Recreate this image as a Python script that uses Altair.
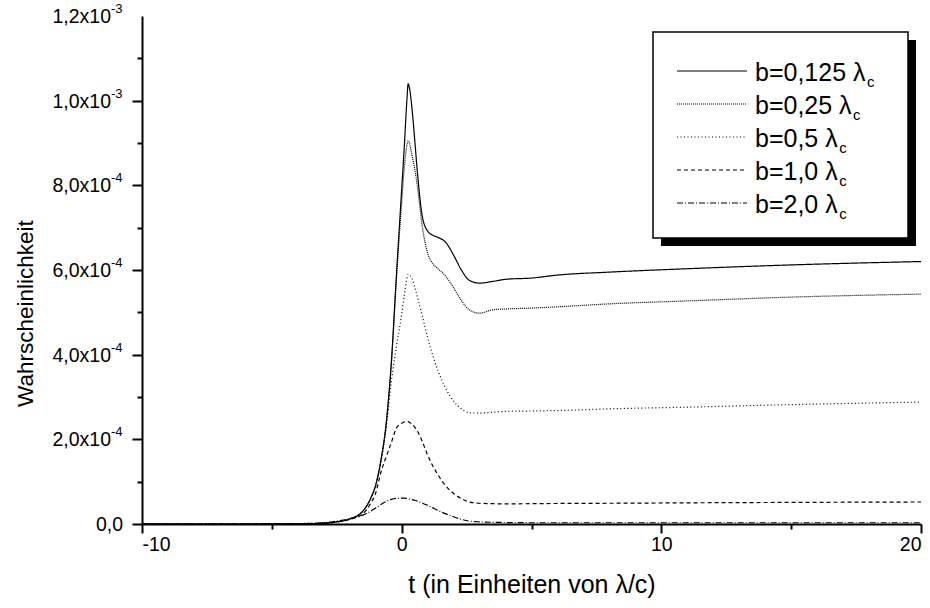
import altair as alt
import pandas as pd

# time axis (in units of lambda/c)
t = [-10, -6, -4, -3, -2.5, -2, -1.5, -1.2, -1.0, -0.8, -0.6, -0.4, -0.2, 0.0, 0.1,
     0.2, 0.25, 0.3, 0.4, 0.5, 0.6, 0.8, 1.0, 1.2, 1.4, 1.7, 2.0, 2.3, 2.6, 3.0,
     3.5, 4.0, 5.0, 6.0, 8.0, 11.0, 15.0, 20.0]

# probability for each impact parameter b
p_b0125 = [0, 0, 5e-7, 2e-6, 5e-6, 1.2e-5, 3.0e-5, 6.0e-5, 9.2e-5, 1.5e-4, 2.35e-4, 3.8e-4,
           5.9e-4, 7.9e-4, 8.9e-4, 1.0e-3, 1.04e-3, 1.03e-3, 9.8e-4, 9.1e-4, 8.35e-4,
           7.25e-4, 6.92e-4, 6.82e-4, 6.77e-4, 6.65e-4, 6.35e-4, 6.0e-4, 5.76e-4,
           5.69e-4, 5.73e-4, 5.78e-4, 5.81e-4, 5.88e-4, 5.95e-4, 6.03e-4, 6.12e-4, 6.2e-4]
p_b025 = [0, 0, 5e-7, 2e-6, 5e-6, 1.2e-5, 3.0e-5, 6.0e-5, 9.2e-5, 1.5e-4, 2.35e-4, 3.75e-4,
          5.8e-4, 7.6e-4, 8.4e-4, 8.95e-4, 9.05e-4, 9.0e-4, 8.7e-4, 8.4e-4, 8.0e-4,
          7.0e-4, 6.4e-4, 6.15e-4, 6.03e-4, 5.85e-4, 5.58e-4, 5.28e-4, 5.06e-4,
          4.98e-4, 5.06e-4, 5.08e-4, 5.1e-4, 5.13e-4, 5.2e-4, 5.27e-4, 5.36e-4, 5.43e-4]
p_b05 = [0, 0, 5e-7, 2e-6, 5e-6, 1.2e-5, 3.0e-5, 5.9e-5, 9.0e-5, 1.45e-4, 2.25e-4, 3.35e-4,
         4.2e-4, 4.95e-4, 5.4e-4, 5.8e-4, 5.9e-4, 5.88e-4, 5.8e-4, 5.6e-4, 5.38e-4,
         4.9e-4, 4.4e-4, 3.98e-4, 3.62e-4, 3.2e-4, 2.9e-4, 2.72e-4, 2.63e-4,
         2.62e-4, 2.64e-4, 2.66e-4, 2.67e-4, 2.68e-4, 2.72e-4, 2.76e-4, 2.82e-4, 2.88e-4]
p_b10 = [0, 0, 5e-7, 2e-6, 5e-6, 1.1e-5, 2.4e-5, 4.8e-5, 7.3e-5, 1.22e-4, 1.58e-4, 1.92e-4,
         2.27e-4, 2.38e-4, 2.41e-4, 2.42e-4, 2.42e-4, 2.4e-4, 2.36e-4, 2.29e-4, 2.2e-4,
         1.94e-4, 1.63e-4, 1.37e-4, 1.16e-4, 9.0e-5, 7.2e-5, 6.0e-5, 5.2e-5,
         4.9e-5, 4.8e-5, 4.75e-5, 4.8e-5, 4.85e-5, 4.9e-5, 5.0e-5, 5.1e-5, 5.2e-5]
p_b20 = [0, 0, 1e-6, 3e-6, 7e-6, 1.2e-5, 2.1e-5, 3.0e-5, 3.8e-5, 4.6e-5, 5.3e-5, 5.8e-5,
         6.05e-5, 6.1e-5, 6.1e-5, 6.0e-5, 5.95e-5, 5.9e-5, 5.75e-5, 5.6e-5, 5.4e-5,
         4.9e-5, 4.4e-5, 3.8e-5, 3.2e-5, 2.4e-5, 1.7e-5, 1.1e-5, 7e-6,
         5e-6, 4e-6, 3.5e-6, 3e-6, 3e-6, 3e-6, 3e-6, 3e-6, 3e-6]

series_values = [p_b0125, p_b025, p_b05, p_b10, p_b20]
series_labels = ["b=0,125 λ", "b=0,25 λ", "b=0,5 λ", "b=1,0 λ", "b=2,0 λ"]
series_dash = [[1, 0], [1, 1], [1, 2.5], [4, 3], [6, 2, 1, 2]]

# y tick labels (mantissa + exponent)
y_tick_values = [0, 2e-4, 4e-4, 6e-4, 8e-4, 1.0e-3, 1.2e-3]
y_tick_mant = ["0,0", "2,0x10", "4,0x10", "6,0x10", "8,0x10", "1,0x10", "1,2x10"]
y_tick_exp = ["", "-4", "-4", "-4", "-4", "-3", "-3"]
y_axis_ticks = [i * 1e-4 for i in range(13)]
x_axis_ticks = [-10, -5, 0, 5, 10, 15, 20]

FONT = "Liberation Sans"
W, H = 779, 508
TICK_FS = 19.5

x_scale = alt.Scale(domain=[-10, 20], nice=False, zero=False)
y_scale = alt.Scale(domain=[0, 0.0012], nice=False, zero=True)

x_axis = alt.Axis(
    values=x_axis_ticks, grid=False,
    labelExpr="datum.value % 10 === 0 ? '' + datum.value : ''",
    labelFont=FONT, labelFontSize=TICK_FS, labelColor="black", labelPadding=2,
    tickSize={"condition": {"test": "datum.value % 10 === 0", "value": 9}, "value": 5},
    tickColor="black", tickWidth=2, domainColor="black", domainWidth=2,
    title="t (in Einheiten von λ/c)", titleFont=FONT, titleFontSize=25,
    titleFontWeight="normal", titleColor="black",
    titleX=W / 2, titleY=60, titleBaseline="middle", titleAlign="center",
)
y_axis = alt.Axis(
    values=y_axis_ticks, grid=False, labels=False,
    tickSize={"condition": {"test": "round(datum.value * 10000) % 2 === 0", "value": 10},
              "value": 5},
    tickColor="black", tickWidth=2, domainColor="black", domainWidth=2,
    title="Wahrscheinlichkeit", titleFont=FONT, titleFontSize=22.5,
    titleFontWeight="normal", titleColor="black",
    titleX=-117, titleY=297, titleAngle=-90, titleBaseline="middle", titleAlign="center",
)

layers = []

# curves
for vals, lab, dash in zip(series_values, series_labels, series_dash):
    df = pd.DataFrame({"t": t, "p": vals, "b": lab})
    layers.append(
        alt.Chart(df).mark_line(color="black", strokeWidth=1.2, strokeDash=dash,
                                interpolate="monotone", clip=True).encode(
            x=alt.X("t:Q", scale=x_scale, axis=x_axis),
            y=alt.Y("p:Q", scale=y_scale, axis=y_axis),
        )
    )

# y tick labels with raised exponent
ylab = pd.DataFrame({"p": y_tick_values, "mant": y_tick_mant, "exp": y_tick_exp})
layers.append(
    alt.Chart(ylab).transform_filter("datum.exp != ''").mark_text(
        align="right", baseline="middle", font=FONT, fontSize=TICK_FS, color="black", dy=1
    ).encode(x=alt.value(-31), y=alt.Y("p:Q", scale=y_scale, axis=y_axis), text="mant:N")
)
layers.append(
    alt.Chart(ylab).transform_filter("datum.exp != ''").mark_text(
        align="left", baseline="middle", font=FONT, fontSize=13, color="black", dy=-7
    ).encode(x=alt.value(-31), y=alt.Y("p:Q", scale=y_scale, axis=y_axis), text="exp:N")
)
layers.append(
    alt.Chart(ylab).transform_filter("datum.exp == ''").mark_text(
        align="right", baseline="middle", font=FONT, fontSize=TICK_FS, color="black", dy=1
    ).encode(x=alt.value(-19), y=alt.Y("p:Q", scale=y_scale, axis=y_axis), text="mant:N")
)

# legend: shadow, box, sample lines and labels
one = pd.DataFrame({"k": [0]})
BX0, BX1, BY0, BY1, SH = 511, 766, 16, 222, 8
layers.append(alt.Chart(one).mark_rect(color="black").encode(
    x=alt.value(BX0 + SH), x2=alt.value(BX1 + SH), y=alt.value(BY0 + SH), y2=alt.value(BY1 + SH)))
layers.append(alt.Chart(one).mark_rect(fill="white", stroke="black", strokeWidth=1.5).encode(
    x=alt.value(BX0), x2=alt.value(BX1), y=alt.value(BY0), y2=alt.value(BY1)))

# approximate advance widths (em) for placing the subscript after each label
adv = {"b": 0.556, "=": 0.584, "0": 0.556, ",": 0.278, "1": 0.556, "2": 0.556,
       "5": 0.556, " ": 0.278, "λ": 0.52}
LEG_FS = 25
for i, (lab, dash) in enumerate(zip(series_labels, series_dash)):
    ry = 55 + 33.0 * i
    layers.append(alt.Chart(one).mark_rule(color="black", strokeWidth=1.2, strokeDash=dash).encode(
        x=alt.value(535), x2=alt.value(605), y=alt.value(ry)))
    layers.append(alt.Chart(one).mark_text(
        align="left", baseline="middle", font=FONT, fontSize=LEG_FS, color="black", dy=2
    ).encode(x=alt.value(613), y=alt.value(ry), text=alt.value(lab)))
    wpx = sum(adv.get(ch, 0.556) for ch in lab) * LEG_FS
    layers.append(alt.Chart(one).mark_text(
        align="left", baseline="middle", font=FONT, fontSize=15, color="black", dy=11
    ).encode(x=alt.value(613 + wpx + 1), y=alt.value(ry), text=alt.value("c")))

chart = alt.layer(*layers).properties(
    width=W, height=H,
    padding={"left": 142, "top": 16, "right": 9, "bottom": 84},
    autosize=alt.AutoSizeParams(type="none"),
    background="white",
).configure_view(stroke=None)

chart.save("out.html", embed_options={"renderer": "svg", "actions": False})
